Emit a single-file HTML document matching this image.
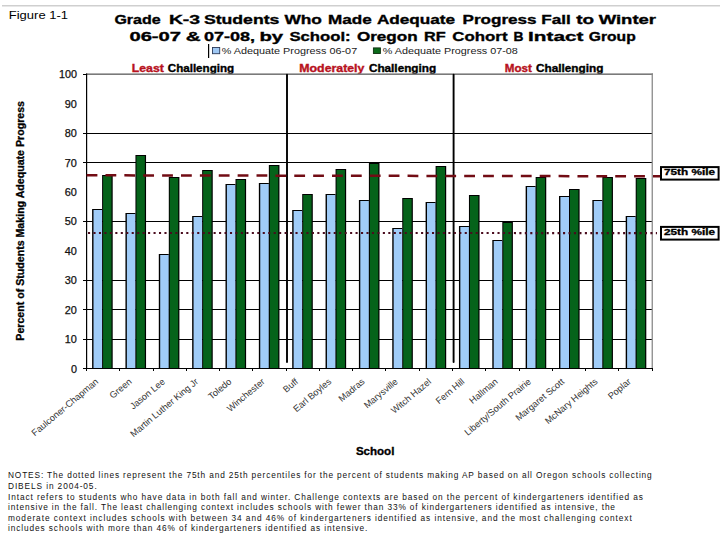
<!DOCTYPE html>
<html><head><meta charset="utf-8"><style>
html,body{margin:0;padding:0;background:#fff;width:720px;height:540px;overflow:hidden}
svg{display:block;font-family:"Liberation Sans", sans-serif}
</style></head><body>
<svg width="720" height="540" viewBox="0 0 720 540">
<rect x="2" y="5" width="718" height="1.5" fill="#cfcfcf"/>
<text x="8.8" y="18.8" font-size="10.3" font-weight="normal" fill="#000" text-anchor="start" textLength="59.2" lengthAdjust="spacingAndGlyphs">Figure 1-1</text>
<text x="114.4" y="24.3" font-size="13.2" font-weight="bold" fill="#000" stroke="#000" stroke-width="0.35" text-anchor="start" textLength="46.2" lengthAdjust="spacingAndGlyphs">Grade</text>
<text x="168.9" y="24.3" font-size="13.2" font-weight="bold" fill="#000" stroke="#000" stroke-width="0.35" text-anchor="start" textLength="31.2" lengthAdjust="spacingAndGlyphs">K-3</text>
<text x="203.9" y="24.3" font-size="13.2" font-weight="bold" fill="#000" stroke="#000" stroke-width="0.35" text-anchor="start" textLength="75.5" lengthAdjust="spacingAndGlyphs">Students</text>
<text x="284.4" y="24.3" font-size="13.2" font-weight="bold" fill="#000" stroke="#000" stroke-width="0.35" text-anchor="start" textLength="37.5" lengthAdjust="spacingAndGlyphs">Who</text>
<text x="328.1" y="24.3" font-size="13.2" font-weight="bold" fill="#000" stroke="#000" stroke-width="0.35" text-anchor="start" textLength="43.7" lengthAdjust="spacingAndGlyphs">Made</text>
<text x="376.9" y="24.3" font-size="13.2" font-weight="bold" fill="#000" stroke="#000" stroke-width="0.35" text-anchor="start" textLength="78.2" lengthAdjust="spacingAndGlyphs">Adequate</text>
<text x="462.5" y="24.3" font-size="13.2" font-weight="bold" fill="#000" stroke="#000" stroke-width="0.35" text-anchor="start" textLength="74.1" lengthAdjust="spacingAndGlyphs">Progress</text>
<text x="541.2" y="24.3" font-size="13.2" font-weight="bold" fill="#000" stroke="#000" stroke-width="0.35" text-anchor="start" textLength="29.5" lengthAdjust="spacingAndGlyphs">Fall</text>
<text x="576.2" y="24.3" font-size="13.2" font-weight="bold" fill="#000" stroke="#000" stroke-width="0.35" text-anchor="start" textLength="17.8" lengthAdjust="spacingAndGlyphs">to</text>
<text x="598.7" y="24.3" font-size="13.2" font-weight="bold" fill="#000" stroke="#000" stroke-width="0.35" text-anchor="start" textLength="57.4" lengthAdjust="spacingAndGlyphs">Winter</text>
<text x="129.4" y="41.1" font-size="13.2" font-weight="bold" fill="#000" stroke="#000" stroke-width="0.35" text-anchor="start" textLength="51.7" lengthAdjust="spacingAndGlyphs">06-07</text>
<text x="185.7" y="41.1" font-size="13.2" font-weight="bold" fill="#000" stroke="#000" stroke-width="0.35" text-anchor="start" textLength="14.9" lengthAdjust="spacingAndGlyphs">&amp;</text>
<text x="203.9" y="41.1" font-size="13.2" font-weight="bold" fill="#000" stroke="#000" stroke-width="0.35" text-anchor="start" textLength="51.2" lengthAdjust="spacingAndGlyphs">07-08,</text>
<text x="259.4" y="41.1" font-size="13.2" font-weight="bold" fill="#000" stroke="#000" stroke-width="0.35" text-anchor="start" textLength="23.7" lengthAdjust="spacingAndGlyphs">by</text>
<text x="289.4" y="41.1" font-size="13.2" font-weight="bold" fill="#000" stroke="#000" stroke-width="0.35" text-anchor="start" textLength="61.2" lengthAdjust="spacingAndGlyphs">School:</text>
<text x="356.9" y="41.1" font-size="13.2" font-weight="bold" fill="#000" stroke="#000" stroke-width="0.35" text-anchor="start" textLength="60.7" lengthAdjust="spacingAndGlyphs">Oregon</text>
<text x="423.9" y="41.1" font-size="13.2" font-weight="bold" fill="#000" stroke="#000" stroke-width="0.35" text-anchor="start" textLength="21.7" lengthAdjust="spacingAndGlyphs">RF</text>
<text x="452.3" y="41.1" font-size="13.2" font-weight="bold" fill="#000" stroke="#000" stroke-width="0.35" text-anchor="start" textLength="55.2" lengthAdjust="spacingAndGlyphs">Cohort</text>
<text x="513.5" y="41.1" font-size="13.2" font-weight="bold" fill="#000" stroke="#000" stroke-width="0.35" text-anchor="start" textLength="10.0" lengthAdjust="spacingAndGlyphs">B</text>
<text x="528.1" y="41.1" font-size="13.2" font-weight="bold" fill="#000" stroke="#000" stroke-width="0.35" text-anchor="start" textLength="55.2" lengthAdjust="spacingAndGlyphs">Intact</text>
<text x="588.8" y="41.1" font-size="13.2" font-weight="bold" fill="#000" stroke="#000" stroke-width="0.35" text-anchor="start" textLength="46.9" lengthAdjust="spacingAndGlyphs">Group</text>
<rect x="208" y="44" width="1.2" height="14" fill="#000"/>
<rect x="212.5" y="47.5" width="7.2" height="6.2" fill="#9fc8f4" stroke="#2a3a5a" stroke-width="0.9"/>
<text x="221.7" y="53.6" font-size="8.2" font-weight="normal" fill="#1a1a1a" text-anchor="start" textLength="135.5" lengthAdjust="spacingAndGlyphs">% Adequate Progress 06-07</text>
<rect x="373.4" y="47.9" width="7" height="5.6" fill="#0b6a1a" stroke="#103010" stroke-width="0.9"/>
<text x="382.8" y="53.6" font-size="8.2" font-weight="normal" fill="#1a1a1a" text-anchor="start" textLength="135.0" lengthAdjust="spacingAndGlyphs">% Adequate Progress 07-08</text>
<text x="131.7" y="71.9" font-size="10.2" font-weight="bold" fill="#b8121e" stroke="#b8121e" stroke-width="0.35" text-anchor="start" textLength="32.2" lengthAdjust="spacingAndGlyphs">Least</text>
<text x="167.8" y="71.9" font-size="10.2" font-weight="bold" fill="#000" stroke="#000" stroke-width="0.35" text-anchor="start" textLength="66.3" lengthAdjust="spacingAndGlyphs">Challenging</text>
<text x="299.3" y="71.9" font-size="10.2" font-weight="bold" fill="#b8121e" stroke="#b8121e" stroke-width="0.35" text-anchor="start" textLength="65.1" lengthAdjust="spacingAndGlyphs">Moderately</text>
<text x="368.9" y="71.9" font-size="10.2" font-weight="bold" fill="#000" stroke="#000" stroke-width="0.35" text-anchor="start" textLength="67.3" lengthAdjust="spacingAndGlyphs">Challenging</text>
<text x="504.8" y="71.9" font-size="10.2" font-weight="bold" fill="#b8121e" stroke="#b8121e" stroke-width="0.35" text-anchor="start" textLength="27.1" lengthAdjust="spacingAndGlyphs">Most</text>
<text x="536.0" y="71.9" font-size="10.2" font-weight="bold" fill="#000" stroke="#000" stroke-width="0.35" text-anchor="start" textLength="67.4" lengthAdjust="spacingAndGlyphs">Challenging</text>
<rect x="86" y="133" width="566" height="1" fill="#000" shape-rendering="crispEdges"/>
<rect x="86" y="162" width="566" height="1" fill="#000" shape-rendering="crispEdges"/>
<rect x="86" y="221" width="566" height="1" fill="#000" shape-rendering="crispEdges"/>
<rect x="86" y="280" width="566" height="1" fill="#000" shape-rendering="crispEdges"/>
<rect x="86" y="309" width="566" height="1" fill="#000" shape-rendering="crispEdges"/>
<rect x="86" y="339" width="566" height="1" fill="#000" shape-rendering="crispEdges"/>
<rect x="86" y="73.4" width="567" height="1.6" fill="#7a7a7a"/>
<rect x="651.6" y="73.4" width="1.3" height="295.5" fill="#8a8a8a"/>
<rect x="83" y="74" width="3.5" height="1" fill="#000" shape-rendering="crispEdges"/>
<text x="76.9" y="78.3" font-size="10.4" font-weight="normal" fill="#111" stroke="#111" stroke-width="0.25" text-anchor="end" textLength="18.0" lengthAdjust="spacingAndGlyphs">100</text>
<text x="76.9" y="107.7" font-size="10.4" font-weight="normal" fill="#111" stroke="#111" stroke-width="0.25" text-anchor="end" textLength="12.1" lengthAdjust="spacingAndGlyphs">90</text>
<rect x="83" y="133" width="3.5" height="1" fill="#000" shape-rendering="crispEdges"/>
<text x="76.9" y="137.2" font-size="10.4" font-weight="normal" fill="#111" stroke="#111" stroke-width="0.25" text-anchor="end" textLength="12.1" lengthAdjust="spacingAndGlyphs">80</text>
<rect x="83" y="162" width="3.5" height="1" fill="#000" shape-rendering="crispEdges"/>
<text x="76.9" y="166.6" font-size="10.4" font-weight="normal" fill="#111" stroke="#111" stroke-width="0.25" text-anchor="end" textLength="12.1" lengthAdjust="spacingAndGlyphs">70</text>
<text x="76.9" y="196.0" font-size="10.4" font-weight="normal" fill="#111" stroke="#111" stroke-width="0.25" text-anchor="end" textLength="12.1" lengthAdjust="spacingAndGlyphs">60</text>
<rect x="83" y="221" width="3.5" height="1" fill="#000" shape-rendering="crispEdges"/>
<text x="76.9" y="225.4" font-size="10.4" font-weight="normal" fill="#111" stroke="#111" stroke-width="0.25" text-anchor="end" textLength="12.1" lengthAdjust="spacingAndGlyphs">50</text>
<text x="76.9" y="254.9" font-size="10.4" font-weight="normal" fill="#111" stroke="#111" stroke-width="0.25" text-anchor="end" textLength="12.1" lengthAdjust="spacingAndGlyphs">40</text>
<rect x="83" y="280" width="3.5" height="1" fill="#000" shape-rendering="crispEdges"/>
<text x="76.9" y="284.3" font-size="10.4" font-weight="normal" fill="#111" stroke="#111" stroke-width="0.25" text-anchor="end" textLength="12.1" lengthAdjust="spacingAndGlyphs">30</text>
<rect x="83" y="309" width="3.5" height="1" fill="#000" shape-rendering="crispEdges"/>
<text x="76.9" y="313.7" font-size="10.4" font-weight="normal" fill="#111" stroke="#111" stroke-width="0.25" text-anchor="end" textLength="12.1" lengthAdjust="spacingAndGlyphs">20</text>
<rect x="83" y="339" width="3.5" height="1" fill="#000" shape-rendering="crispEdges"/>
<text x="76.9" y="343.2" font-size="10.4" font-weight="normal" fill="#111" stroke="#111" stroke-width="0.25" text-anchor="end" textLength="12.1" lengthAdjust="spacingAndGlyphs">10</text>
<rect x="83" y="368" width="3.5" height="1" fill="#000" shape-rendering="crispEdges"/>
<text x="76.9" y="372.6" font-size="10.4" font-weight="normal" fill="#111" stroke="#111" stroke-width="0.25" text-anchor="end" textLength="6.0" lengthAdjust="spacingAndGlyphs">0</text>
<rect x="92.10" y="209" width="10" height="160" fill="#000"/>
<rect x="93.50" y="210" width="8.6" height="158" fill="#a0ccf8"/>
<rect x="102.10" y="175" width="10.6" height="194" fill="#000"/>
<rect x="103.10" y="176" width="8.4" height="192" fill="#05631a"/>
<rect x="125.45" y="213" width="10" height="156" fill="#000"/>
<rect x="126.85" y="214" width="8.6" height="154" fill="#a0ccf8"/>
<rect x="135.45" y="155" width="10.6" height="214" fill="#000"/>
<rect x="136.45" y="156" width="8.4" height="212" fill="#05631a"/>
<rect x="158.80" y="254" width="10" height="115" fill="#000"/>
<rect x="160.20" y="255" width="8.6" height="113" fill="#a0ccf8"/>
<rect x="168.80" y="177" width="10.6" height="192" fill="#000"/>
<rect x="169.80" y="178" width="8.4" height="190" fill="#05631a"/>
<rect x="192.15" y="216" width="10" height="153" fill="#000"/>
<rect x="193.55" y="217" width="8.6" height="151" fill="#a0ccf8"/>
<rect x="202.15" y="170" width="10.6" height="199" fill="#000"/>
<rect x="203.15" y="171" width="8.4" height="197" fill="#05631a"/>
<rect x="225.50" y="184" width="10" height="185" fill="#000"/>
<rect x="226.90" y="185" width="8.6" height="183" fill="#a0ccf8"/>
<rect x="235.50" y="179" width="10.6" height="190" fill="#000"/>
<rect x="236.50" y="180" width="8.4" height="188" fill="#05631a"/>
<rect x="258.85" y="183" width="10" height="186" fill="#000"/>
<rect x="260.25" y="184" width="8.6" height="184" fill="#a0ccf8"/>
<rect x="268.85" y="165" width="10.6" height="204" fill="#000"/>
<rect x="269.85" y="166" width="8.4" height="202" fill="#05631a"/>
<rect x="292.20" y="210" width="10" height="159" fill="#000"/>
<rect x="293.60" y="211" width="8.6" height="157" fill="#a0ccf8"/>
<rect x="302.20" y="194" width="10.6" height="175" fill="#000"/>
<rect x="303.20" y="195" width="8.4" height="173" fill="#05631a"/>
<rect x="325.55" y="194" width="10" height="175" fill="#000"/>
<rect x="326.95" y="195" width="8.6" height="173" fill="#a0ccf8"/>
<rect x="335.55" y="169" width="10.6" height="200" fill="#000"/>
<rect x="336.55" y="170" width="8.4" height="198" fill="#05631a"/>
<rect x="358.90" y="200" width="10" height="169" fill="#000"/>
<rect x="360.30" y="201" width="8.6" height="167" fill="#a0ccf8"/>
<rect x="368.90" y="163" width="10.6" height="206" fill="#000"/>
<rect x="369.90" y="164" width="8.4" height="204" fill="#05631a"/>
<rect x="392.25" y="228" width="10" height="141" fill="#000"/>
<rect x="393.65" y="229" width="8.6" height="139" fill="#a0ccf8"/>
<rect x="402.25" y="198" width="10.6" height="171" fill="#000"/>
<rect x="403.25" y="199" width="8.4" height="169" fill="#05631a"/>
<rect x="425.60" y="202" width="10" height="167" fill="#000"/>
<rect x="427.00" y="203" width="8.6" height="165" fill="#a0ccf8"/>
<rect x="435.60" y="166" width="10.6" height="203" fill="#000"/>
<rect x="436.60" y="167" width="8.4" height="201" fill="#05631a"/>
<rect x="458.95" y="226" width="10" height="143" fill="#000"/>
<rect x="460.35" y="227" width="8.6" height="141" fill="#a0ccf8"/>
<rect x="468.95" y="195" width="10.6" height="174" fill="#000"/>
<rect x="469.95" y="196" width="8.4" height="172" fill="#05631a"/>
<rect x="492.30" y="240" width="10" height="129" fill="#000"/>
<rect x="493.70" y="241" width="8.6" height="127" fill="#a0ccf8"/>
<rect x="502.30" y="222" width="10.6" height="147" fill="#000"/>
<rect x="503.30" y="223" width="8.4" height="145" fill="#05631a"/>
<rect x="525.65" y="186" width="10" height="183" fill="#000"/>
<rect x="527.05" y="187" width="8.6" height="181" fill="#a0ccf8"/>
<rect x="535.65" y="177" width="10.6" height="192" fill="#000"/>
<rect x="536.65" y="178" width="8.4" height="190" fill="#05631a"/>
<rect x="559.00" y="196" width="10" height="173" fill="#000"/>
<rect x="560.40" y="197" width="8.6" height="171" fill="#a0ccf8"/>
<rect x="569.00" y="189" width="10.6" height="180" fill="#000"/>
<rect x="570.00" y="190" width="8.4" height="178" fill="#05631a"/>
<rect x="592.35" y="200" width="10" height="169" fill="#000"/>
<rect x="593.75" y="201" width="8.6" height="167" fill="#a0ccf8"/>
<rect x="602.35" y="177" width="10.6" height="192" fill="#000"/>
<rect x="603.35" y="178" width="8.4" height="190" fill="#05631a"/>
<rect x="625.70" y="216" width="10" height="153" fill="#000"/>
<rect x="627.10" y="217" width="8.6" height="151" fill="#a0ccf8"/>
<rect x="635.70" y="178" width="10.6" height="191" fill="#000"/>
<rect x="636.70" y="179" width="8.4" height="189" fill="#05631a"/>
<rect x="86" y="73.5" width="1.2" height="295.5" fill="#000"/>
<rect x="86" y="368" width="567" height="1" fill="#000" shape-rendering="crispEdges"/>
<rect x="86" y="368" width="1" height="3" fill="#000" shape-rendering="crispEdges"/>
<rect x="119" y="368" width="1" height="3" fill="#000" shape-rendering="crispEdges"/>
<rect x="153" y="368" width="1" height="3" fill="#000" shape-rendering="crispEdges"/>
<rect x="186" y="368" width="1" height="3" fill="#000" shape-rendering="crispEdges"/>
<rect x="219" y="368" width="1" height="3" fill="#000" shape-rendering="crispEdges"/>
<rect x="252" y="368" width="1" height="3" fill="#000" shape-rendering="crispEdges"/>
<rect x="286" y="368" width="1" height="3" fill="#000" shape-rendering="crispEdges"/>
<rect x="319" y="368" width="1" height="3" fill="#000" shape-rendering="crispEdges"/>
<rect x="352" y="368" width="1" height="3" fill="#000" shape-rendering="crispEdges"/>
<rect x="385" y="368" width="1" height="3" fill="#000" shape-rendering="crispEdges"/>
<rect x="419" y="368" width="1" height="3" fill="#000" shape-rendering="crispEdges"/>
<rect x="452" y="368" width="1" height="3" fill="#000" shape-rendering="crispEdges"/>
<rect x="485" y="368" width="1" height="3" fill="#000" shape-rendering="crispEdges"/>
<rect x="519" y="368" width="1" height="3" fill="#000" shape-rendering="crispEdges"/>
<rect x="552" y="368" width="1" height="3" fill="#000" shape-rendering="crispEdges"/>
<rect x="585" y="368" width="1" height="3" fill="#000" shape-rendering="crispEdges"/>
<rect x="618" y="368" width="1" height="3" fill="#000" shape-rendering="crispEdges"/>
<rect x="652" y="368" width="1" height="3" fill="#000" shape-rendering="crispEdges"/>
<line x1="287.0" y1="74.7" x2="287.0" y2="362" stroke="#000" stroke-width="1.9" stroke-linecap="round"/>
<line x1="453.6" y1="74.7" x2="453.6" y2="362" stroke="#000" stroke-width="1.9" stroke-linecap="round"/>
<line x1="86.6" y1="175.3" x2="660.5" y2="176.3" stroke="#720c14" stroke-width="2.5" stroke-dasharray="10.8 8.08"/>
<line x1="88" y1="233.0" x2="657" y2="233.1" stroke="#4a0c1e" stroke-width="2.1" stroke-dasharray="2.1 3.36"/>
<rect x="661.0" y="167.1" width="57.6" height="12.5" fill="#fff" stroke="#000" stroke-width="2"/>
<text x="664.0" y="175.0" font-size="8.6" font-weight="bold" fill="#000" stroke="#000" stroke-width="0.3" text-anchor="start" textLength="51.0" lengthAdjust="spacingAndGlyphs">75th %ile</text>
<rect x="661.0" y="226.9" width="57.6" height="12.7" fill="#fff" stroke="#000" stroke-width="2"/>
<text x="664.0" y="234.8" font-size="8.6" font-weight="bold" fill="#000" stroke="#000" stroke-width="0.3" text-anchor="start" textLength="51.0" lengthAdjust="spacingAndGlyphs">25th %ile</text>
<text x="0" y="0" font-size="10.5" font-weight="bold" fill="#000" stroke="#000" stroke-width="0.3" textLength="239.7" lengthAdjust="spacingAndGlyphs" transform="translate(24.4,340.7) rotate(-90)">Percent of Students Making Adequate Progress</text>
<text x="0" y="0" font-size="9.2" fill="#333" text-anchor="end" transform="translate(97.1,380.3) rotate(-40) translate(0,3)">Faulconer-Chapman</text>
<text x="0" y="0" font-size="9.2" fill="#333" text-anchor="end" transform="translate(130.4,380.3) rotate(-40) translate(0,3)">Green</text>
<text x="0" y="0" font-size="9.2" fill="#333" text-anchor="end" transform="translate(163.7,380.3) rotate(-40) translate(0,3)">Jason Lee</text>
<text x="0" y="0" font-size="9.2" fill="#333" text-anchor="end" transform="translate(197.0,380.3) rotate(-40) translate(0,3)">Martin Luther King Jr</text>
<text x="0" y="0" font-size="9.2" fill="#333" text-anchor="end" transform="translate(230.2,380.3) rotate(-40) translate(0,3)">Toledo</text>
<text x="0" y="0" font-size="9.2" fill="#333" text-anchor="end" transform="translate(263.5,380.3) rotate(-40) translate(0,3)">Winchester</text>
<text x="0" y="0" font-size="9.2" fill="#333" text-anchor="end" transform="translate(296.8,380.3) rotate(-40) translate(0,3)">Buff</text>
<text x="0" y="0" font-size="9.2" fill="#333" text-anchor="end" transform="translate(330.1,380.3) rotate(-40) translate(0,3)">Earl Boyles</text>
<text x="0" y="0" font-size="9.2" fill="#333" text-anchor="end" transform="translate(363.4,380.3) rotate(-40) translate(0,3)">Madras</text>
<text x="0" y="0" font-size="9.2" fill="#333" text-anchor="end" transform="translate(396.6,380.3) rotate(-40) translate(0,3)">Marysville</text>
<text x="0" y="0" font-size="9.2" fill="#333" text-anchor="end" transform="translate(429.9,380.3) rotate(-40) translate(0,3)">Witch Hazel</text>
<text x="0" y="0" font-size="9.2" fill="#333" text-anchor="end" transform="translate(463.2,380.3) rotate(-40) translate(0,3)">Fern Hill</text>
<text x="0" y="0" font-size="9.2" fill="#333" text-anchor="end" transform="translate(496.5,380.3) rotate(-40) translate(0,3)">Hallman</text>
<text x="0" y="0" font-size="9.2" fill="#333" text-anchor="end" transform="translate(529.7,380.3) rotate(-40) translate(0,3)">Liberty/South Prairie</text>
<text x="0" y="0" font-size="9.2" fill="#333" text-anchor="end" transform="translate(563.0,380.3) rotate(-40) translate(0,3)">Margaret Scott</text>
<text x="0" y="0" font-size="9.2" fill="#333" text-anchor="end" transform="translate(596.3,380.3) rotate(-40) translate(0,3)">McNary Heights</text>
<text x="0" y="0" font-size="9.2" fill="#333" text-anchor="end" transform="translate(629.6,380.3) rotate(-40) translate(0,3)">Poplar</text>
<text x="355.9" y="455.0" font-size="10" font-weight="bold" fill="#000" stroke="#000" stroke-width="0.3" text-anchor="start" textLength="38.5" lengthAdjust="spacingAndGlyphs">School</text>
<text x="8.0" y="478.20" font-size="8.3" fill="#111" textLength="643.7" lengthAdjust="spacing">NOTES: The dotted lines represent the 75th and 25th percentiles for the percent of students making AP based on all Oregon schools collecting</text>
<text x="8.0" y="488.85" font-size="8.3" fill="#111" textLength="88.7" lengthAdjust="spacing">DIBELS in 2004-05.</text>
<text x="8.0" y="499.50" font-size="8.3" fill="#111" textLength="634.8" lengthAdjust="spacing">Intact refers to students who have data in both fall and winter. Challenge contexts are based on the percent of kindergarteners identified as</text>
<text x="8.0" y="510.15" font-size="8.3" fill="#111" textLength="607.0" lengthAdjust="spacing">intensive in the fall. The least challenging context includes schools with fewer than 33% of kindergarteners identified as intensive, the</text>
<text x="8.0" y="520.80" font-size="8.3" fill="#111" textLength="623.7" lengthAdjust="spacing">moderate context includes schools with between 34 and 46% of kindergarteners identified as intensive, and the most challenging context</text>
<text x="8.0" y="531.45" font-size="8.3" fill="#111" textLength="359.4" lengthAdjust="spacing">includes schools with more than 46% of kindergarteners identified as intensive.</text>
</svg>
</body></html>
